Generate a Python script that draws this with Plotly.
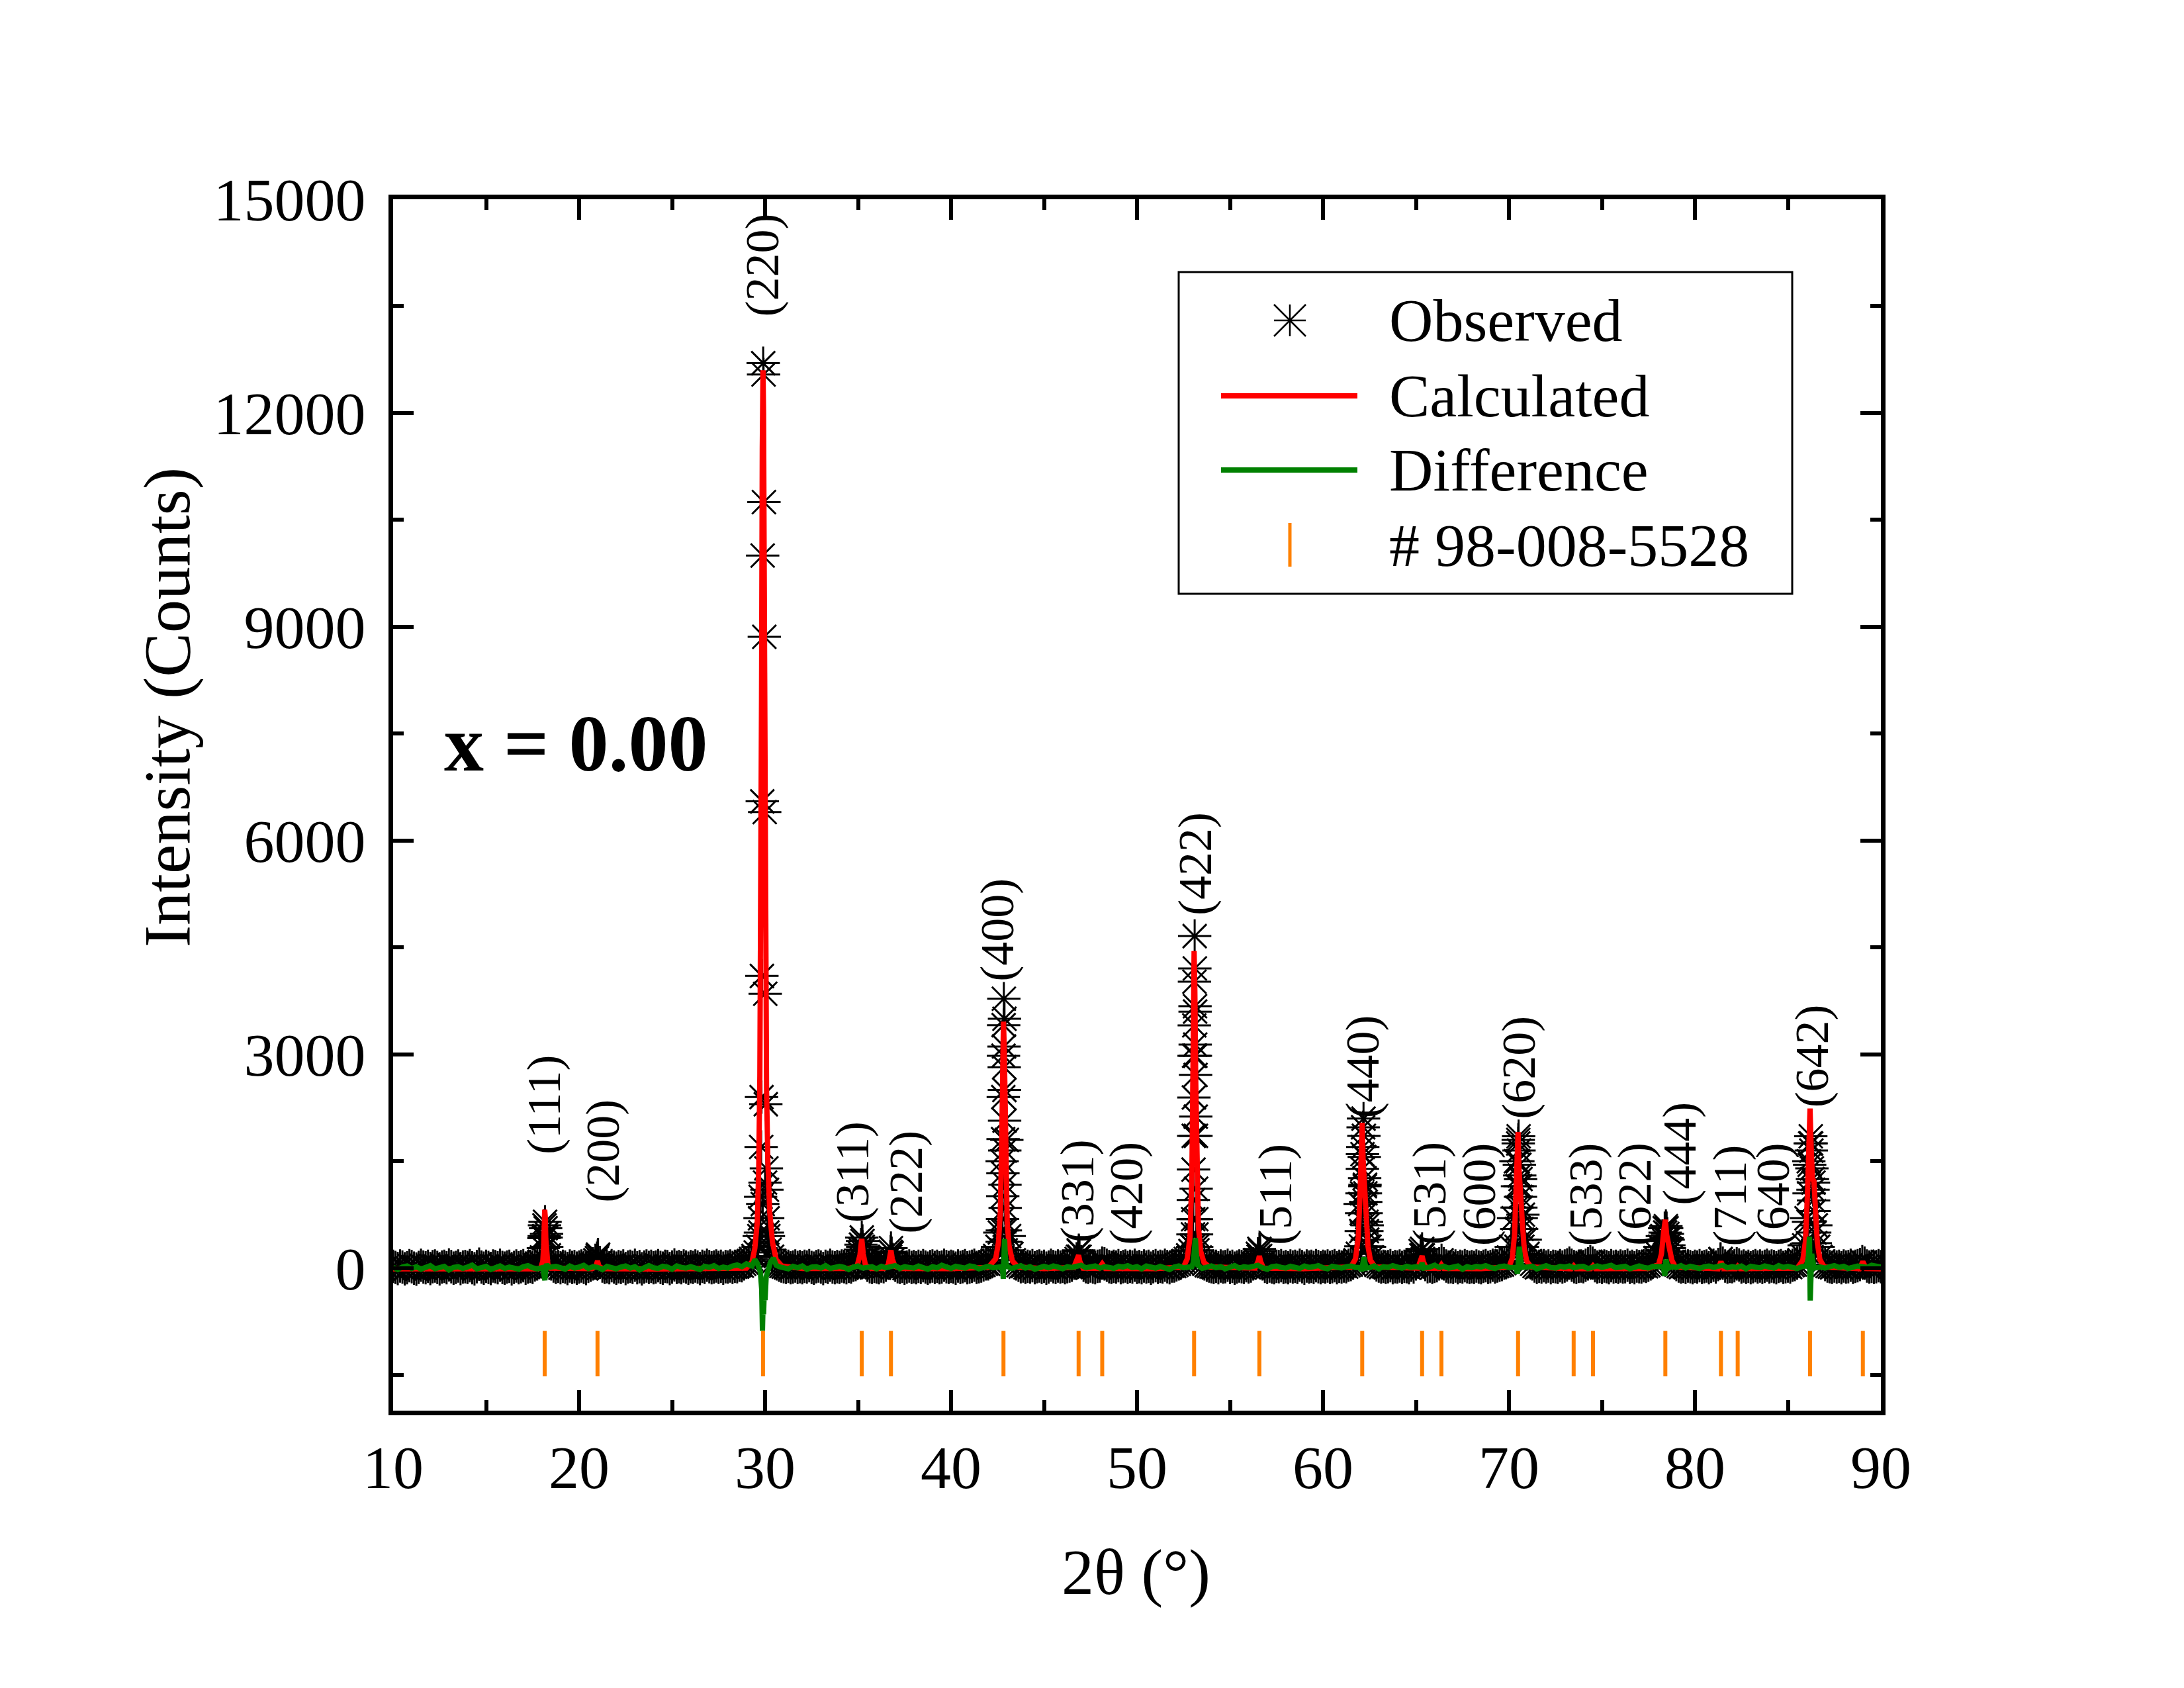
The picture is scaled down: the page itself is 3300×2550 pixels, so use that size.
import plotly.graph_objects as go

FONT = "Liberation Serif, Times New Roman, serif"

# reflection positions of card # 98-008-5528 (orange ticks), deg 2theta
bragg_2theta = [18.15, 20.99, 29.89, 35.20, 36.77, 42.82, 46.86, 48.13, 53.07, 56.58,
                62.11, 65.33, 66.37, 70.49, 73.48, 74.52, 78.41, 81.40, 82.30, 86.19, 89.03]

# hkl labels and where they sit (text foot)
hkl_labels = ['(111)', '(200)', '(220)', '(311)', '(222)', '(400)', '(331)', '(420)', '(422)', '(511)',
              '(440)', '(531)', '(600)', '(620)', '(533)', '(622)', '(444)', '(711)', '(640)', '(642)']
label_2theta = [18.11, 21.28, 29.85, 34.73, 37.58, 42.48, 46.78, 49.43, 53.13, 57.43,
                62.12, 65.73, 68.43, 70.53, 74.13, 76.78, 79.18, 81.88, 84.23, 86.28]
label_counts = [1580, 900, 13330, 620, 464, 4000, 334, 306, 4930, 306,
                2080, 306, 290, 2070, 290, 290, 863, 290, 290, 2237]

# observed scan, 0.125 deg steps starting at 10 deg
obs_bg_counts = [
    25, 10, -5, 30, 15, -10, 5, 35, 20, 0, -15, 10, 40, 15, 5, 25,
    -5, 20, 30, 10, -10, 15, 25, 5, 45, 20, 0, 10, 30, -5, 15, 20,
    10, 35, 5, -10, 20, 55, 15, 0, 25, 10, -5, 30, 20, 5, 40, 10,
    0, 15, 25, -10, 10, 30, 5, 20, 35, 0, 15, 25, 10, 45, 60, 90,
    150, 450, 480, 180, 60, 30, 10, 25, 5, 25, 15, -5, 30, 10, 20, 0,
    15, 30, 10, -5, 25, 40, 60, 110, 170, 80, 30, 10, 20, 5, 35, 15,
    0, 20, 10, 30, -5, 15, 25, 10, 40, 5, 20, -10, 15, 30, 10, 25,
    5, 15, 35, 10, 0, 25, 20, -5, 15, 45, 10, 20, 5, 30, 15, 0,
    20, 10, 30, 15, -5, 25, 10, 40, 20, 5, 15, 30, 10, 25, 0, 20,
    15, 30, 10, 25, 20, 40, 35, 60, 80, 100, 130, 170, 220, 300, 500, 900,
    1200, 500, 260, 160, 100, 60, 40, 30, 20, 10, 25, 5, 15, 30, 10, 20,
    5, 25, 15, 35, 10, 0, 20, 30, 15, -5, 25, 10, 40, 15, 5, 20,
    10, 30, 20, 5, 25, 15, 40, 50, 90, 260, 300, 110, 40, 20, 10, 25,
    15, 5, 30, 20, 40, 70, 230, 120, 40, 20, 10, 25, 0, 15, 30, 10,
    20, 5, 25, 10, 35, 15, 0, 20, 30, 10, 25, 5, 15, 40, 20, 10,
    25, 15, 0, 30, 10, 20, 35, 5, 15, 25, 40, 10, 20, 30, 45, 60,
    60, 80, 110, 170, 300, 500, 1500, 3500, 1800, 450, 200, 110, 60, 40, 20, 30,
    10, 25, 15, 35, 5, 20, 30, 10, 25, 0, 15, 40, 20, 10, 30, 15,
    25, 5, 20, 30, 40, 70, 130, 240, 90, 40, 20, 10, 30, 15, 5, 25,
    30, 70, 60, 40, 20, 10, 25, 15, 35, 5, 20, 30, 10, 25, 15, 40,
    10, 20, 5, 30, 15, 25, 0, 20, 35, 10, 25, 15, 40, 20, 5, 30,
    30, 45, 60, 80, 100, 130, 180, 240, 300, 3600, 250, 150, 90, 60, 40, 30,
    20, 10, 25, 5, 30, 15, 20, 40, 10, 25, 0, 15, 30, 20, 10, 35,
    15, 30, 60, 110, 200, 240, 60, 25, 10, 30, 15, 5, 25, 20, 35, 10,
    20, 5, 30, 15, 25, 10, 40, 20, 0, 30, 15, 25, 10, 35, 20, 5,
    25, 15, 30, 10, 20, 35, 5, 25, 15, 30, 20, 40, 50, 70, 110, 200,
    900, 1600, 1150, 600, 300, 150, 80, 45, 30, 15, 25, 10, 20, 35, 5, 20,
    15, 30, 10, 25, 20, 5, 40, 15, 60, 110, 240, 130, 50, 20, 30, 10,
    25, 35, 60, 110, 60, 30, 15, 20, 10, 30, 5, 25, 15, 35, 20, 10,
    20, 10, 30, 15, 5, 25, 35, 10, 20, 40, 15, 30, 40, 50, 70, 100,
    150, 300, 700, 1500, 1800, 1250, 750, 400, 200, 100, 60, 30, 10, 25, 15, 35,
    15, 30, 5, 25, 20, 10, 35, 15, 30, 45, 70, 40, 20, 10, 25, 30,
    20, 40, 60, 90, 70, 35, 15, 25, 10, 30, 20, 5, 35, 15, 25, 10,
    30, 15, 20, 40, 10, 25, 5, 30, 20, 15, 35, 25, 40, 60, 90, 140,
    200, 300, 450, 560, 420, 280, 160, 90, 50, 30, 15, 25, 10, 30, 20, 5,
    25, 15, 35, 10, 20, 30, 5, 25, 40, 15, 50, 120, 70, 30, 15, 25,
    20, 35, 60, 45, 15, 30, 10, 25, 5, 20, 35, 15, 30, 10, 25, 40,
    15, 30, 20, 5, 25, 35, 10, 20, 30, 15, 40, 50, 70, 110, 180, 320,
    700, 1500, 1750, 1200, 600, 300, 160, 90, 50, 30, 20, 10, 30, 15, 25, 5,
    30, 15, 20, 40, 10, 25, 35, 50, 90, 70, 30, 15, 25, 10, 20, 35,
    20,
]

# extra observed points across the reflections
obs_peak_2theta = [
    18.08, 18.11, 18.14, 18.17, 18.20, 18.23, 18.26,
    20.96, 21.02,
    29.69, 29.73, 29.76, 29.79, 29.81, 29.83, 29.85, 29.87, 29.90, 29.92,
    29.94, 29.96, 29.98, 30.01, 30.04, 30.07, 30.10, 30.14, 30.18,
    35.12, 35.16, 35.20, 35.24, 35.28,
    36.73, 36.77, 36.81,
    42.74, 42.75, 42.76, 42.77, 42.78, 42.79, 42.80, 42.81, 42.82, 42.83, 42.84,
    42.85, 42.86, 42.87, 42.88, 42.89, 42.90, 42.91, 42.92, 42.93, 42.94,
    46.83, 46.87, 46.91,
    53.00, 53.01, 53.02, 53.03, 53.04, 53.05, 53.06, 53.07, 53.08, 53.09, 53.10,
    53.11, 53.12, 53.13, 53.14, 53.15, 53.16, 53.17, 53.18, 53.19, 53.20, 53.21,
    56.54, 56.58, 56.62,
    62.04, 62.06, 62.08, 62.10, 62.12, 62.14, 62.16, 62.18, 62.20, 62.22,
    62.24, 62.26, 62.28, 62.30, 62.32, 62.34, 62.36, 62.38, 62.40,
    65.29, 65.33, 65.37,
    70.40, 70.42, 70.44, 70.46, 70.48, 70.50, 70.52, 70.54, 70.56, 70.58,
    70.60, 70.62, 70.64, 70.66, 70.68, 70.70, 70.72,
    78.32, 78.36, 78.40, 78.44, 78.48, 78.52, 78.56, 78.60, 78.64,
    81.38,
    86.08, 86.11, 86.14, 86.17, 86.20, 86.23, 86.26, 86.29, 86.32, 86.35,
    86.38, 86.41, 86.44, 86.47,
]
obs_peak_counts = [
    280, 420, 600, 650, 560, 430, 300,
    140, 190,
    450, 700, 1000, 1700, 2400, 4100, 6550, 10000, 12700, 12540,
    10750, 8860, 6400, 3850, 2300, 1400, 1100, 700, 450,
    200, 330, 430, 380, 260,
    160, 280, 210,
    250, 370, 530, 690, 1010, 1330, 1810, 2400, 2980, 3410, 3780,
    3110, 2820, 2500, 2070, 1650, 1170, 845, 530, 370, 250,
    160, 250, 160,
    300, 473, 687, 956, 1383, 1856, 2395, 2980, 3407, 4020, 4660,
    4205, 3676, 3137, 2980, 2711, 2126, 1856, 1114, 687, 473, 300,
    160, 270, 170,
    306, 520, 770, 1049, 1392, 1699, 1977, 2098, 1856, 1560,
    1262, 1170, 1049, 928, 770, 650, 520, 400, 306,
    180, 270, 180,
    300, 550, 850, 1150, 1500, 1750, 1850, 1650, 1450, 1300,
    1150, 1000, 850, 700, 550, 400, 300,
    250, 380, 500, 590, 560, 480, 400, 320, 230,
    130,
    350, 650, 1050, 1450, 1750, 1850, 1650, 1400, 1250, 1100,
    950, 800, 500, 350,
]

# calculated (refined) profile
calc_2theta = [
    10.0, 12.0, 14.0, 16.0, 17.8,
    17.95, 18.05, 18.10, 18.13, 18.15, 18.18, 18.21, 18.25, 18.32, 18.45,
    19.5, 20.7, 20.9, 20.99, 21.08, 21.3,
    24.0, 27.0, 29.0, 29.3,
    29.45, 29.58, 29.66, 29.72, 29.77, 29.81, 29.85, 29.89, 29.92, 29.95,
    29.98, 30.02, 30.08, 30.15, 30.25, 30.40, 30.60, 30.90,
    32.0, 34.5, 34.95, 35.10, 35.20, 35.28, 35.40, 35.7,
    36.40, 36.62, 36.72, 36.77, 36.84, 36.98, 37.3,
    40.0, 42.0, 42.40, 42.55, 42.65, 42.72, 42.77, 42.82, 42.86, 42.90,
    42.95, 43.02, 43.12, 43.30, 43.6,
    45.0, 46.60, 46.80, 46.86, 46.93, 47.10,
    47.95, 48.13, 48.30,
    51.0, 52.5, 52.70, 52.85, 52.95, 53.01, 53.07, 53.11, 53.16, 53.22,
    53.30, 53.42, 53.60, 53.9,
    56.35, 56.52, 56.58, 56.65, 56.80,
    59.0, 61.5, 61.75, 61.90, 62.00, 62.07, 62.11, 62.16, 62.22, 62.28,
    62.34, 62.42, 62.55, 62.80,
    65.10, 65.26, 65.33, 65.40, 65.55,
    66.25, 66.37, 66.50,
    68.5, 70.0, 70.18, 70.30, 70.40, 70.46, 70.49, 70.54, 70.60, 70.66,
    70.72, 70.82, 70.95, 71.2,
    73.35, 73.48, 73.60, 74.40, 74.52, 74.65,
    77.5, 78.05, 78.20, 78.32, 78.41, 78.48, 78.56, 78.65, 78.76, 78.95,
    81.25, 81.40, 81.55, 82.20, 82.30, 82.42,
    85.5, 85.80, 85.95, 86.06, 86.14, 86.19, 86.25, 86.32, 86.40, 86.48,
    86.58, 86.72, 86.95,
    88.85, 89.03, 89.20, 90.0,
]
calc_counts = [
    -10, -12, -11, -12, -10,
    10, 100, 320, 640, 820, 720, 410, 180, 50, 0,
    -10, -8, 20, 100, 20, -8,
    -12, -10, 0, 90,
    280, 640, 1400, 2700, 4700, 8000, 11500, 12600, 12000, 10000,
    7000, 4300, 2500, 1500, 790, 360, 120, 30,
    -5, -5, 30, 180, 410, 200, 40, -5,
    -5, 40, 170, 250, 130, 25, -5,
    -8, 10, 130, 360, 790, 1700, 2800, 3460, 3100, 2200,
    1200, 640, 310, 100, 15,
    -8, 10, 110, 180, 90, 0,
    -5, 60, -5,
    -8, 15, 130, 440, 1300, 2800, 4450, 3900, 2600, 1300,
    590, 240, 80, 15,
    0, 100, 170, 90, 0,
    -8, 15, 130, 440, 1100, 1800, 2040, 1500, 1150, 1110,
    690, 310, 110, 15,
    0, 100, 170, 90, 0,
    -5, 45, -5,
    -8, 15, 140, 470, 1200, 1750, 1910, 1400, 1050, 1020,
    640, 280, 100, 15,
    -8, 30, -8, -8, 30, -8,
    -5, 50, 200, 510, 680, 470, 360, 280, 110, 15,
    -8, 90, -8, -8, 25, -8,
    0, 110, 390, 1100, 1900, 2240, 1700, 1250, 1220, 790,
    360, 120, 15,
    -8, 90, -5, -10,
]

# difference curve, 0.25 deg steps starting at 10 deg
diff_bg_counts = [
    10, -20, 15, 30, -5, 20, -15, 5, 35, -10, 0, 25, -25, 10, 20, -5,
    15, 40, -10, 5, 25, -20, 10, 30, -5, 15, 0, -15, 20, 35, 5, -10,
    20, -30, 10, 25, 5, -15, 30, 0, 15, 40, -5, 20, 10, -20, 25, 5,
    -10, 15, 30, 0, 20, -25, 10, 35, 5, -5, 25, 15, -15, 30, 10, 0,
    20, 5, -20, 25, 10, 35, -5, 15, 0, 30, 45, 20, 60, 80, 40, -30,
    -200, 60, 40, 20, 10, -10, 25, 5, 30, -15, 15, 20, 0, 35, -5, 10,
    25, 10, -20, 15, 30, 0, 10, 20, -10, 25, 5, 15, 35, -5, 20, 10,
    0, 30, 15, -15, 20, 5, 40, 10, -5, 25, 15, 0, 30, 20, -10, 15,
    25, 5, 10, 30, 20, -5, 15, 35, 0, 20, -15, 10, 25, 5, 30, 15,
    -10, 20, 10, 25, 40, 5, 15, 30, 0, 20, 10, -5, 25, 15, 35, 5,
    20, -10, 30, 15, 0, 25, 10, -20, 15, 30, 5, 20, 10, 25, -5, 15,
    30, 5, 20, -10, 15, 35, 0, 20, 10, 25, 40, 5, -15, 20, 30, 10,
    0, 25, 15, -5, 30, 10, 20, 35, 5, -10, 25, 15, 0, 20, 30, 10,
    15, 25, 5, 30, -10, 20, 10, 35, 15, 0, 25, 10, 20, 30, -5, 15,
    40, 10, 25, 0, 15, 30, -15, 20, 5, 25, 15, 35, 10, -5, 20, 30,
    10, 20, 5, 30, 15, 25, -10, 20, 35, 10, 0, 25, 15, 30, 5, 20,
    25, -5, 15, 30, 10, 20, 40, 5, 15, 25, -10, 20, 30, 10, 0, 25,
    15, 30, 5, 20, 10, 35, 0, 25, 15, -5, 20, 30, 10, 25, 40, 5,
    20, 10, 30, -10, 25, 15, 5, 30, 20, 0, 35, 10, 25, 15, -5, 20,
    30, 10, 25, 15, 0, 20, 35, 10, 25, -5, 15, 30, 20, 10, 40, 25,
    15,
]
diff_peak_2theta = [
    18.05, 18.12, 18.16, 18.20, 18.26, 18.34,
    29.30, 29.45, 29.60, 29.75, 29.82, 29.86, 29.89, 29.92, 29.96, 30.00,
    30.06, 30.15, 30.30, 30.45, 30.60,
    42.70, 42.78, 42.81, 42.84, 42.88, 42.92, 42.98,
    52.95, 53.03, 53.10, 53.14, 53.19, 53.27,
    62.00, 62.08, 62.14, 62.20, 62.26, 62.34,
    65.25, 65.33, 65.42,
    70.38, 70.46, 70.52, 70.56, 70.62, 70.70,
    78.30, 78.38, 78.44, 78.50, 78.58,
    86.00, 86.10, 86.16, 86.20, 86.24, 86.28, 86.34, 86.42,
]
diff_peak_counts = [
    10, -60, -170, -40, 60, 10,
    30, 120, 60, -60, -300, -880, -520, -650, -300, -450,
    -120, -40, 90, 140, 40,
    20, -40, -150, 120, 410, 150, 30,
    20, 80, 300, 420, 200, 40,
    10, -40, 60, 150, 60, 0,
    10, 75, 0,
    10, -80, 200, 300, 120, 10,
    20, -110, 120, 60, 0,
    30, 150, 440, -455, -200, 200, 100, 0,
]

# scan grids
obs_bg_2theta = [10 + 0.125 * i for i in range(len(obs_bg_counts))]
diff_bg_2theta = [10 + 0.25 * i for i in range(len(diff_bg_counts))]

obs_x = obs_bg_2theta + obs_peak_2theta
obs_y = obs_bg_counts + obs_peak_counts

diff_pts = [(x, y) for x, y in zip(diff_bg_2theta, diff_bg_counts)
            if min(abs(x - p) for p in diff_peak_2theta) > 0.13]
diff_pts += list(zip(diff_peak_2theta, diff_peak_counts))
diff_pts.sort()
diff_x = [p[0] for p in diff_pts]
diff_y = [p[1] for p in diff_pts]

BRAGG_Y = -1200

fig = go.Figure()
# observed: star made of an x plus a cross
for sym in ['x-thin-open', 'cross-thin-open']:
    fig.add_trace(go.Scatter(x=obs_x, y=obs_y, mode='markers',
                             marker=dict(symbol=sym, size=36, color='black',
                                         line=dict(width=3, color='black'))))
fig.add_trace(go.Scatter(x=calc_2theta, y=calc_counts, mode='lines',
                         line=dict(color='#FF0000', width=8)))
fig.add_trace(go.Scatter(x=diff_x, y=diff_y, mode='lines',
                         line=dict(color='#008000', width=8)))
fig.add_trace(go.Scatter(x=bragg_2theta, y=[BRAGG_Y] * len(bragg_2theta), mode='markers',
                         marker=dict(symbol='line-ns-open', size=49, color='#FF8000',
                                     line=dict(width=6, color='#FF8000'))))

# hkl labels
for t, lx, ly in zip(hkl_labels, label_2theta, label_counts):
    fig.add_annotation(x=lx, y=ly, xref='x', yref='y', text=t, textangle=-90,
                       showarrow=False, xanchor='center', yanchor='bottom',
                       font=dict(family=FONT, size=72, color='black'))

# plot area in pixels (nudged a few px up/left)
DX, DY = -4, -4
L0, R0, T0, B0 = 590, 2838, 297, 2127
L, R, T, B = L0 + DX, R0 + DX, T0 + DY, B0 + DY
W, H = 3300, 2550


def px_x(px):
    return (px - L0) / (R0 - L0)


def px_y(py):
    return (B0 - py) / (B0 - T0)


# hand made legend box
shapes = [dict(type='rect', xref='paper', yref='paper',
               x0=px_x(1777), x1=px_x(2704), y0=px_y(893), y1=px_y(407),
               line=dict(color='black', width=3), fillcolor='white', layer='above')]
cx, cy, a = 1945, 480, 24
for dx0, dy0, dx1, dy1 in [(0, -a, 0, a), (-a, 0, a, 0), (-a, -a, a, a), (-a, a, a, -a)]:
    shapes.append(dict(type='line', xref='paper', yref='paper',
                       x0=px_x(cx + dx0), y0=px_y(cy + dy0), x1=px_x(cx + dx1), y1=px_y(cy + dy1),
                       line=dict(color='black', width=2.5), layer='above'))
shapes.append(dict(type='line', xref='paper', yref='paper', x0=px_x(1841), x1=px_x(2047),
                   y0=px_y(594), y1=px_y(594), line=dict(color='#FF0000', width=8), layer='above'))
shapes.append(dict(type='line', xref='paper', yref='paper', x0=px_x(1841), x1=px_x(2047),
                   y0=px_y(706), y1=px_y(706), line=dict(color='#008000', width=8), layer='above'))
shapes.append(dict(type='line', xref='paper', yref='paper', x0=px_x(1945), x1=px_x(1945),
                   y0=px_y(786), y1=px_y(852), line=dict(color='#FF8000', width=5), layer='above'))

legend_text = ['Observed', 'Calculated', 'Difference', '# 98-008-5528']
for txt, py in zip(legend_text, [480, 594, 706, 820]):
    fig.add_annotation(x=px_x(2093), y=px_y(py), xref='paper', yref='paper', text=txt,
                       showarrow=False, xanchor='left', yanchor='middle',
                       font=dict(family=FONT, size=92, color='black'))

fig.add_annotation(x=px_x(866), y=px_y(1119), xref='paper', yref='paper', text='<b>x = 0.00</b>',
                   showarrow=False, xanchor='center', yanchor='middle',
                   font=dict(family=FONT, size=120, color='black'))
fig.add_annotation(x=px_x(248), y=px_y(1065), xref='paper', yref='paper', text='Intensity (Counts)',
                   textangle=-90, showarrow=False, xanchor='center', yanchor='middle',
                   font=dict(family=FONT, size=100, color='black'))
fig.add_annotation(x=px_x(1712), y=px_y(2371), xref='paper', yref='paper', text='2θ (°)',
                   showarrow=False, xanchor='center', yanchor='middle',
                   font=dict(family=FONT, size=98, color='black'))

axis_common = dict(ticks='inside', ticklen=31, tickwidth=6, tickcolor='black',
                   showline=True, linewidth=7, linecolor='black', mirror='allticks',
                   showgrid=False, zeroline=False,
                   tickfont=dict(family=FONT, size=92, color='black'))
fig.update_xaxes(range=[10, 90], tick0=10, dtick=10, ticklabelstandoff=0,
                 minor=dict(dtick=5, ticks='inside', ticklen=16, tickwidth=6, tickcolor='black'),
                 **axis_common)
fig.update_yaxes(range=[-2000, 15000], tick0=0, dtick=3000, tickformat='d', ticklabelstandoff=16,
                 minor=dict(dtick=1500, ticks='inside', ticklen=16, tickwidth=6, tickcolor='black'),
                 **axis_common)

fig.update_layout(width=W, height=H, margin=dict(l=L, r=W - R, t=T, b=H - B),
                  paper_bgcolor='white', plot_bgcolor='white', showlegend=False,
                  shapes=shapes, font=dict(family=FONT, color='black'))

fig.write_html("out.html")
